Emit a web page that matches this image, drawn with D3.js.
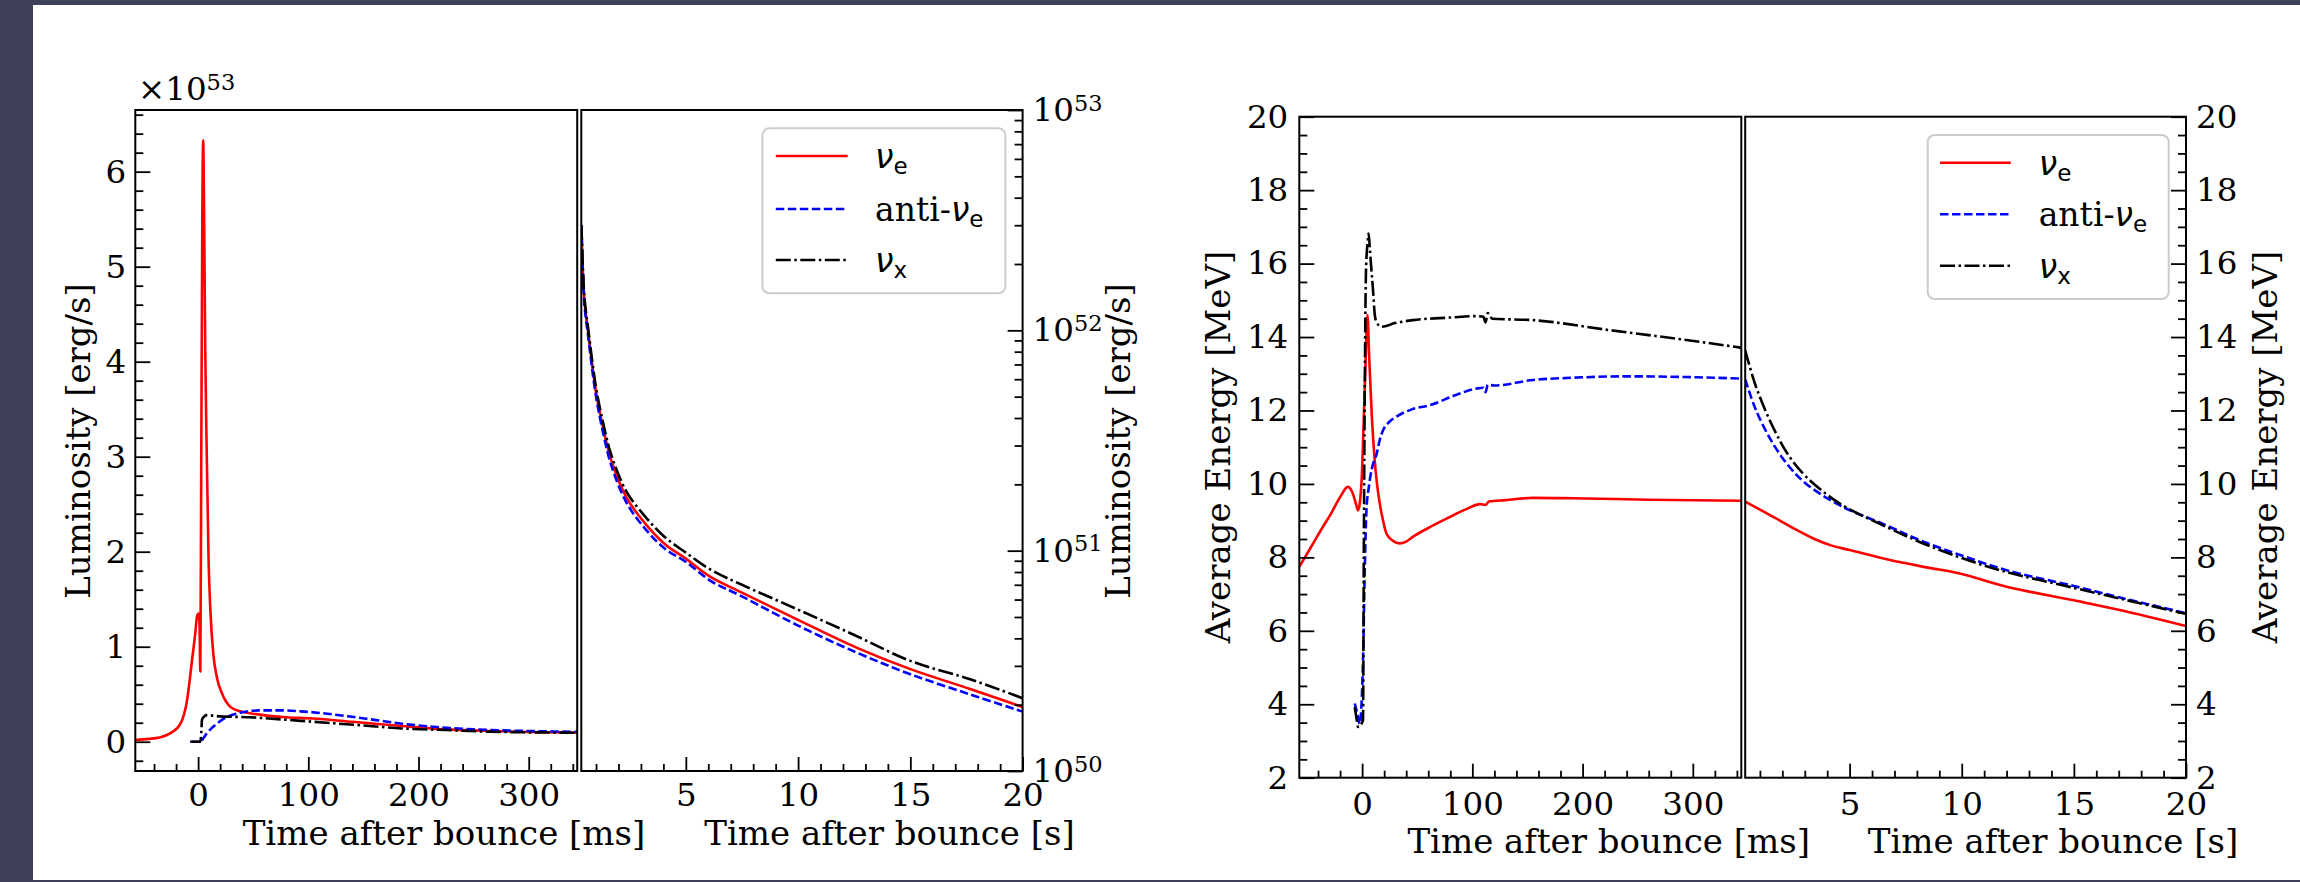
<!DOCTYPE html>
<html><head><meta charset="utf-8">
<script src="https://cdn.jsdelivr.net/npm/d3@7"></script>
<style>html,body{margin:0;padding:0;background:#3f4158;}svg{display:block;}</style>
</head><body>
<svg id="c" width="2300" height="882"></svg>
<script>
// ---------------- DATA ----------------
// Luminosity, early phase [ms], units of 1e53 erg/s
const lumMsNue = [[-57,0.018],[-45,0.03],[-35,0.045],[-25,0.09],[-16,0.19],[-10,0.44],[-5.5,0.86],[-2.5,1.15],[-1,1.32],[0.4,1.35],[1.2,1.28],[2.0,0.74],[2.8,2.8],[3.8,5.5],[4.6,6.33],[5.4,5.6],[6.5,4.1],[7.6,3.2],[9.5,1.91],[11.1,1.39],[14,0.9],[17,0.68],[21.6,0.51],[29,0.37],[38,0.32],[47,0.30],[77,0.26],[104,0.245],[140,0.21],[185,0.165],[225,0.13],[265,0.113],[300,0.103],[344,0.095]];
const lumMsNuebar = [[-7,0],[2,0],[5,0.04],[8,0.09],[12,0.14],[17,0.19],[26,0.26],[38,0.305],[56,0.33],[75,0.33],[93,0.32],[138,0.265],[160,0.23],[185,0.19],[225,0.147],[266,0.123],[300,0.113],[344,0.105]];
const lumMsNux = [[-7,0],[2,0],[3,0.12],[3.5,0.23],[5,0.26],[8,0.28],[17,0.27],[47,0.257],[93,0.22],[144,0.176],[185,0.14],[225,0.123],[266,0.105],[344,0.095]];
// Luminosity, late phase [s], erg/s
const lumSNue = [[0.35,3.0e52],[0.48,1.38e52],[0.65,9.8e51],[1.0,5.25e51],[1.33,3.55e51],[1.68,2.57e51],[2.36,1.74e51],[3.21,1.32e51],[4.07,1.07e51],[5,9.2e50],[6.1,7.6e50],[7.5,6.45e50],[10,4.85e50],[12.6,3.63e50],[15,2.9e50],[17.7,2.35e50],[20,1.95e50]];
const lumSNuebar = [[0.35,3.0e52],[0.48,1.33e52],[0.65,9.4e51],[1.0,5.0e51],[1.33,3.38e51],[1.68,2.44e51],[2.36,1.65e51],[3.21,1.25e51],[4.07,1.02e51],[5,8.9e50],[6.1,7.3e50],[7.5,6.2e50],[10,4.57e50],[12.6,3.45e50],[15,2.75e50],[17.7,2.22e50],[20,1.86e50]];
const lumSNux = [[0.35,3.0e52],[0.48,1.43e52],[0.65,1.02e52],[1.0,5.5e51],[1.33,3.75e51],[1.68,2.72e51],[2.36,1.85e51],[3.21,1.42e51],[4.07,1.15e51],[5,9.8e50],[6.1,8.2e50],[7.5,7.0e50],[10,5.4e50],[12.6,4.1e50],[15,3.16e50],[17.7,2.6e50],[20,2.14e50]];
// Average energy, early phase [ms], MeV
const enMsNue = [[-57,7.74],[-45,8.35],[-35,8.86],[-29,9.15],[-20,9.64],[-13,9.92],[-9,9.78],[-5.5,9.45],[-3.7,9.28],[-2,9.5],[0,10.4],[1.5,11.8],[3,13.2],[4.8,14.6],[6.5,13.4],[8.7,11.9],[11.4,10.65],[13.5,10.0],[16,9.47],[19,9.0],[22,8.65],[28,8.45],[34,8.38],[40,8.43],[46,8.56],[60,8.8],[77,9.06],[95,9.32],[107,9.45],[112,9.43],[115,9.52],[130,9.56],[155,9.62],[190,9.61],[260,9.57],[344,9.54]];
const enMsNuebar = [[-6.7,4.02],[-4,3.7],[-2.2,3.47],[0.8,5.2],[2.5,7.8],[3.9,9.28],[6,9.9],[8.7,10.4],[11,10.65],[13,10.8],[16,11.2],[19,11.46],[25,11.7],[31,11.83],[45,12.03],[61,12.14],[85,12.42],[104,12.6],[110,12.62],[112,12.5],[114,12.7],[120,12.68],[155,12.83],[190,12.89],[241,12.93],[294,12.91],[344,12.87]];
const enMsNux = [[-6.7,3.92],[-5,3.6],[-3.7,3.38],[0.8,3.56],[1.5,8],[2.5,13],[3.5,15.8],[5,16.6],[5.9,16.82],[7,16.4],[8.5,15.8],[9.9,15.28],[11.5,14.6],[13,14.41],[17.5,14.28],[30,14.38],[46,14.46],[80,14.53],[104,14.57],[110,14.55],[112,14.4],[114,14.65],[118,14.5],[155,14.46],[224,14.19],[294,13.92],[344,13.71]];
// Average energy, late phase [s], MeV
const enSNue = [[0.344,9.52],[1,9.3],[1.72,9.06],[2.47,8.8],[3.43,8.5],[4.2,8.32],[5,8.2],[6.85,7.92],[8.5,7.72],[10,7.55],[12,7.2],[15,6.83],[17.1,6.56],[20,6.13]];
const enSNuebar = [[0.344,12.85],[0.83,12.0],[1.58,11.1],[2.32,10.46],[3.07,10.0],[4.55,9.42],[6.64,8.87],[8.2,8.45],[10,8.05],[12,7.65],[15,7.22],[17.1,6.9],[20,6.48]];
const enSNux = [[0.344,13.64],[0.83,12.64],[1.58,11.55],[2.32,10.74],[3.07,10.19],[4.55,9.47],[6.64,8.83],[8.2,8.4],[10,7.98],[12,7.6],[15,7.17],[17.1,6.87],[20,6.46]];

// axis domains and ticks
const msDomain = [-57, 344];
const sDomain = [0.344, 20];
const lumLinDomain = [-0.308, 6.649];
const lumLogDomain = [1e50, 1e53];
const enDomain = [2, 20];
const msTicks = [0, 100, 200, 300];
const msMinor = d3.range(-40, 344, 20).filter(v => v % 100 !== 0);
const sTicks = [5, 10, 15, 20];
const sMinor = d3.range(1, 20, 1).filter(v => v % 5 !== 0);
const lumLinTicks = [0, 1, 2, 3, 4, 5, 6];
const lumLinMinor = d3.range(-0.2, 6.65, 0.2).map(v => +v.toFixed(1)).filter(v => Math.abs(v - Math.round(v)) > 1e-6);
const lumLogTicks = [1e50, 1e51, 1e52, 1e53];
const lumLogExp = [50, 51, 52, 53];
const lumLogMinor = [50, 51, 52].flatMap(e => d3.range(2, 10).map(m => m * Math.pow(10, e)));
const enTicks = d3.range(2, 21, 2);
const enMinor = d3.range(2.5, 20, 0.5).filter(v => v % 2 !== 0);
const seriesNames = ["νe", "anti-νe", "νx"];

// ---------------- DRAW ----------------
const SERIF = "DejaVu Serif";
const SANS = "DejaVu Sans";
const TFS = 32.5, LFS = 34;
const LW = 2.6;
const svg = d3.select("#c");
svg.append("rect").attr("width", 2300).attr("height", 882).attr("fill", "#3f4158");
svg.append("rect").attr("x", 33).attr("y", 5).attr("width", 2267).attr("height", 875).attr("fill", "#fff");

const STY = [
  {color: "#ff0000", dash: null},
  {color: "#0000ff", dash: "8.5,3.5"},
  {color: "#000000", dash: "15,3.5,2.5,3.5"}
];
let clipN = 0;

function styleAxis(sel) {
  sel.select(".domain").remove();
  sel.selectAll("line").attr("stroke", "#000").attr("stroke-width", 1.8);
  sel.selectAll("text").attr("font-family", SERIF).attr("font-size", TFS).attr("fill", "#000");
}

function drawPanel(p) {
  const [x0, x1] = p.x.range();
  const [yb, yt] = p.y.range();
  const g = svg.append("g");
  const id = "clip" + (clipN++);
  svg.append("clipPath").attr("id", id).append("rect")
    .attr("x", x0).attr("y", yt).attr("width", x1 - x0).attr("height", yb - yt);
  const lg = g.append("g").attr("clip-path", `url(#${id})`);
  const line = d3.line().x(d => p.x(d[0])).y(d => p.y(d[1])).curve(p.curve || d3.curveMonotoneX);
  p.series.forEach((s, i) => {
    lg.append("path").datum(s).attr("fill", "none")
      .attr("stroke", STY[i].color).attr("stroke-width", LW)
      .attr("stroke-linejoin", "round")
      .attr("stroke-dasharray", STY[i].dash).attr("d", line);
  });
  g.append("g").attr("transform", `translate(0,${yb})`)
    .call(d3.axisBottom(p.x).tickValues(p.xMinor).tickSize(-7).tickFormat("")).call(styleAxis);
  g.append("g").attr("transform", `translate(0,${yb})`)
    .call(d3.axisBottom(p.x).tickValues(p.xTicks).tickSize(-14).tickPadding(p.xPad).tickFormat(d3.format("d"))).call(styleAxis);
  const side = p.ySide;
  const xpos = side === "left" ? x0 : x1;
  const mk = side === "left" ? d3.axisLeft : d3.axisRight;
  g.append("g").attr("transform", `translate(${xpos},0)`)
    .call(mk(p.y).tickValues(p.yMinor).tickSize(-8).tickFormat("")).call(styleAxis);
  const ya = g.append("g").attr("transform", `translate(${xpos},0)`)
    .call(mk(p.y).tickValues(p.yTicks).tickSize(-15).tickPadding(p.yPad)
      .tickFormat(p.yLog ? "" : d3.format("d"))).call(styleAxis);
  if (p.yLog) {
    ya.selectAll(".tick").each(function(d, i) {
      const t = d3.select(this).append("text")
        .attr("x", p.yPad).attr("dy", "0.32em")
        .attr("font-family", SERIF).attr("font-size", TFS).attr("fill", "#000")
        .attr("text-anchor", "start");
      t.append("tspan").text("10");
      t.append("tspan").attr("font-size", 22.5).attr("dy", "-0.45em").text(lumLogExp[i]);
    });
  }
  g.append("rect").attr("x", x0).attr("y", yt).attr("width", x1 - x0).attr("height", yb - yt)
    .attr("fill", "none").attr("stroke", "#000").attr("stroke-width", 2);
  return g;
}

function legend(x, y, w, h, rowY, lx0, lx1, tx) {
  const g = svg.append("g");
  g.append("rect").attr("x", x).attr("y", y).attr("width", w).attr("height", h)
    .attr("rx", 7).attr("fill", "#fff").attr("fill-opacity", 0.8)
    .attr("stroke", "#cccccc").attr("stroke-width", 2);
  seriesNames.forEach((name, i) => {
    const ry = rowY[i];
    g.append("line").attr("x1", lx0).attr("x2", lx1).attr("y1", ry).attr("y2", ry)
      .attr("stroke", STY[i].color).attr("stroke-width", LW).attr("stroke-dasharray", STY[i].dash);
    const t = g.append("text").attr("x", tx).attr("y", ry + 12).attr("font-size", 33).attr("fill", "#000");
    const pre = name.startsWith("anti-") ? "anti-" : "";
    const sub = name.slice(-1);
    if (pre) t.append("tspan").attr("font-family", SERIF).text(pre);
    t.append("tspan").attr("font-family", SANS).attr("font-style", "italic").text("ν");
    t.append("tspan").attr("font-family", SANS).attr("font-size", 23).attr("dy", 6).text(sub);
  });
}

function label(x, y, txt, rot) {
  const t = svg.append("text").attr("font-family", SERIF).attr("font-size", LFS).attr("fill", "#000")
    .attr("text-anchor", "middle").text(txt);
  if (rot) t.attr("transform", `translate(${x},${y}) rotate(-90)`).attr("dominant-baseline", "central");
  else t.attr("x", x).attr("y", y);
}

// ----- Left figure: luminosity -----
const L_top = 110, L_bot = 771;
drawPanel({
  x: d3.scaleLinear(msDomain, [135.3, 577.2]), y: d3.scaleLinear(lumLinDomain, [L_bot, L_top]),
  xTicks: msTicks, xMinor: msMinor, yTicks: lumLinTicks, yMinor: lumLinMinor,
  ySide: "left", xPad: 12, yPad: 9, series: [lumMsNue, lumMsNuebar, lumMsNux]
});
drawPanel({
  x: d3.scaleLinear(sDomain, [581.3, 1022.6]), y: d3.scaleLog(lumLogDomain, [L_bot, L_top]),
  xTicks: sTicks, xMinor: sMinor, yTicks: lumLogTicks, yMinor: lumLogMinor, yLog: true,
  ySide: "right", xPad: 12, yPad: 10, series: [lumSNue, lumSNuebar, lumSNux],
  curve: d3.curveCatmullRom.alpha(0.5)
});
legend(762.4, 128.3, 243, 165, [156, 209, 260], 775.8, 847.7, 875);
{
  const t = svg.append("text").attr("x", 138).attr("y", 100).attr("font-family", SERIF)
    .attr("font-size", TFS).attr("fill", "#000");
  t.append("tspan").text("×10");
  t.append("tspan").attr("font-size", 22.5).attr("dy", "-0.45em").text("53");
}
label(444, 845, "Time after bounce [ms]");
label(889.5, 845, "Time after bounce [s]");
label(78, 441, "Luminosity [erg/s]", true);
label(1118, 441, "Luminosity [erg/s]", true);

// ----- Right figure: average energy -----
const E_top = 116.7, E_bot = 777.7;
const yE = d3.scaleLinear(enDomain, [E_bot, E_top]);
drawPanel({
  x: d3.scaleLinear(msDomain, [1299.3, 1741.3]), y: yE,
  xTicks: msTicks, xMinor: msMinor, yTicks: enTicks, yMinor: enMinor,
  ySide: "left", xPad: 14, yPad: 11, series: [enMsNue, enMsNuebar, enMsNux]
});
drawPanel({
  x: d3.scaleLinear(sDomain, [1745.2, 2186]), y: yE,
  xTicks: sTicks, xMinor: sMinor, yTicks: enTicks, yMinor: enMinor,
  ySide: "right", xPad: 14, yPad: 10, series: [enSNue, enSNuebar, enSNux],
  curve: d3.curveCatmullRom.alpha(0.5)
});
legend(1927.7, 135, 241, 164, [162.7, 214.3, 265.7], 1940, 2010.8, 2038.7);
label(1608.7, 853, "Time after bounce [ms]");
label(2053, 853, "Time after bounce [s]");
label(1218, 447, "Average Energy [MeV]", true);
label(2265, 447, "Average Energy [MeV]", true);
</script>
</body></html>
